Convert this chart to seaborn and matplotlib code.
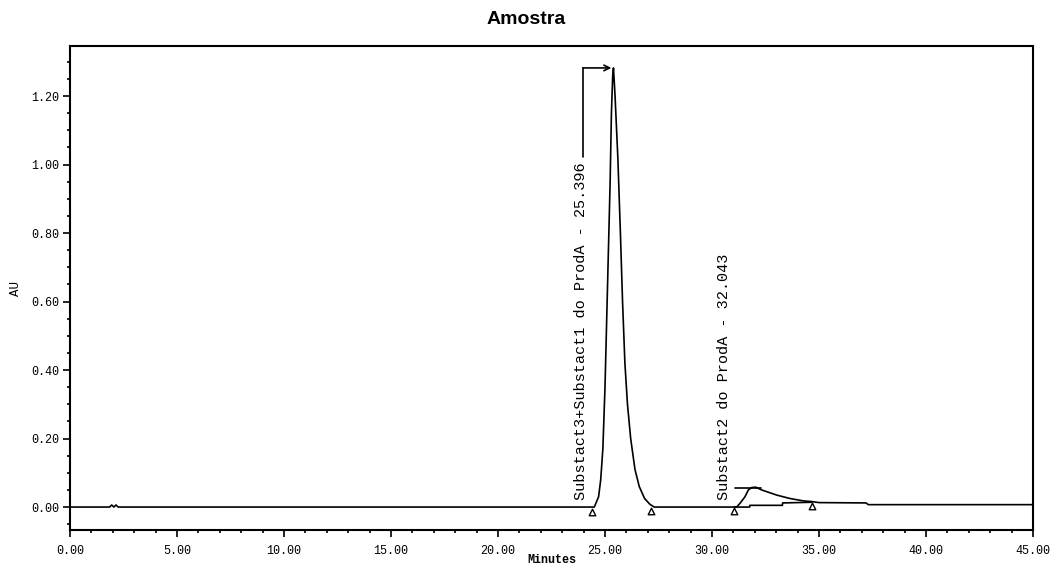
import numpy as np
import pandas as pd
import seaborn as sns
import matplotlib
matplotlib.use("Agg")
import matplotlib.pyplot as plt
from matplotlib.ticker import MultipleLocator, FormatStrFormatter

# Chromatogram trace (minutes, AU)
time_min = [0.0, 1.85, 1.95, 2.05, 2.15, 2.25,
            24.50, 24.70, 24.80, 24.90, 25.00, 25.08, 25.16, 25.24, 25.30, 25.36,
            25.396, 25.47, 25.60, 25.72, 25.82, 25.93, 26.05, 26.20, 26.40, 26.60,
            26.85, 27.10, 27.30,
            31.15, 31.31, 31.54, 31.70, 31.85, 32.043, 32.32, 33.02, 33.64, 34.27,
            34.66, 35.00, 37.20, 37.30, 45.0]
absorbance = [0.0, 0.0, 0.006, 0.0, 0.006, 0.0,
              0.0, 0.030, 0.080, 0.170, 0.350, 0.550, 0.750, 0.950, 1.150, 1.260,
              1.282, 1.200, 1.020, 0.800, 0.600, 0.420, 0.300, 0.200, 0.110, 0.060,
              0.025, 0.008, 0.0,
              0.0, 0.011, 0.030, 0.050, 0.057, 0.058, 0.050, 0.035, 0.025, 0.018,
              0.016, 0.013, 0.012, 0.007, 0.007]

# Integration baseline under the second peak
base_time = [31.05, 31.76, 31.77, 33.29, 33.30, 34.66]
base_au = [0.0, 0.0, 0.005, 0.005, 0.012, 0.014]

# Peak start / end markers
mark_time = [24.40, 27.15, 31.05, 34.65]
mark_au = [-0.013, -0.012, -0.012, 0.002]

# Peak labels
peak_names = ["Substact3+Substact1 do ProdA", "Substact2 do ProdA"]
peak_rt = [25.396, 32.043]
peak_height = [1.282, 0.058]
label_time = [23.90, 30.55]
label_base = [0.020, 0.020]

x_ticks = [0, 5, 10, 15, 20, 25, 30, 35, 40, 45]
y_ticks = [0.0, 0.2, 0.4, 0.6, 0.8, 1.0, 1.2]

sns.set_style("ticks")
mono = ["Liberation Mono", "DejaVu Sans Mono"]
plt.rcParams["font.family"] = mono
plt.rcParams["text.color"] = "black"
plt.rcParams["axes.labelcolor"] = "black"

fig = plt.figure(figsize=(10.53, 5.66), dpi=100)
ax = fig.add_axes([70 / 1053, 1 - 530 / 566, 963 / 1053, 484 / 566])

trace = pd.DataFrame({"Minutes": time_min, "AU": absorbance})
sns.lineplot(data=trace, x="Minutes", y="AU", ax=ax, color="black",
             lw=1.2, estimator=None, sort=False)
sns.lineplot(x=base_time, y=base_au, ax=ax, color="black", lw=1.2,
             estimator=None, sort=False)
ax.scatter(mark_time, mark_au, marker="^", s=22, facecolor="white",
           edgecolor="black", linewidth=1.0, zorder=4)

label_font = dict(family=mono, size=11, color="black")

# Peak 1: rotated label with bracket pointing at the apex
ax.text(label_time[0], label_base[0], f"{peak_names[0]} - {peak_rt[0]:.3f}",
        rotation=90, rotation_mode="anchor", ha="left", va="center",
        fontdict=label_font)
ax.plot([label_time[0] + 0.07, label_time[0] + 0.07], [1.022, peak_height[0]],
        color="black", lw=1.2)
ax.annotate("", xy=(peak_rt[0] - 0.1, peak_height[0]),
            xytext=(label_time[0] + 0.07, peak_height[0]),
            arrowprops=dict(arrowstyle="->", lw=1.2, color="black",
                            shrinkA=0, shrinkB=0))

# Peak 2: rotated label with horizontal connector
ax.text(label_time[1], label_base[1], f"{peak_names[1]} - {peak_rt[1]:.3f}",
        rotation=90, rotation_mode="anchor", ha="left", va="center",
        fontdict=label_font)
ax.plot([31.07, 32.30], [0.055, 0.055], color="black", lw=1.2)

ax.set_xlim(0, 45)
ax.set_ylim(-0.067, 1.346)
ax.set_xticks(x_ticks)
ax.set_yticks(y_ticks)
ax.xaxis.set_minor_locator(MultipleLocator(1))
ax.yaxis.set_minor_locator(MultipleLocator(0.05))
ax.xaxis.set_major_formatter(FormatStrFormatter("%.2f"))
ax.yaxis.set_major_formatter(FormatStrFormatter("%.2f"))
ax.tick_params(which="major", direction="out", length=5, width=1.2,
               labelsize=8.5, color="black", labelcolor="black", pad=3)
ax.tick_params(axis="x", which="major", pad=6)
ax.tick_params(which="minor", direction="out", length=2.5, width=1.2,
               color="black")
for s in ax.spines.values():
    s.set_visible(True)
    s.set_linewidth(1.5)
    s.set_color("black")

ax.set_xlabel("Minutes", fontsize=8.5, fontweight="bold", color="black")
ax.xaxis.set_label_coords(0.5, -0.062)
ax.xaxis.label.set_va("center")
ax.set_ylabel("AU", fontsize=9, color="black")
ax.yaxis.set_label_coords(-0.056, 0.5)
ax.yaxis.label.set_va("center")

fig.text(0.5, 1 - 20 / 566, "Amostra", ha="center", va="center",
         fontsize=14, fontweight="bold", color="black",
         family=["Liberation Sans", "DejaVu Sans"])

fig.savefig("out.png", dpi=100, facecolor="white")
